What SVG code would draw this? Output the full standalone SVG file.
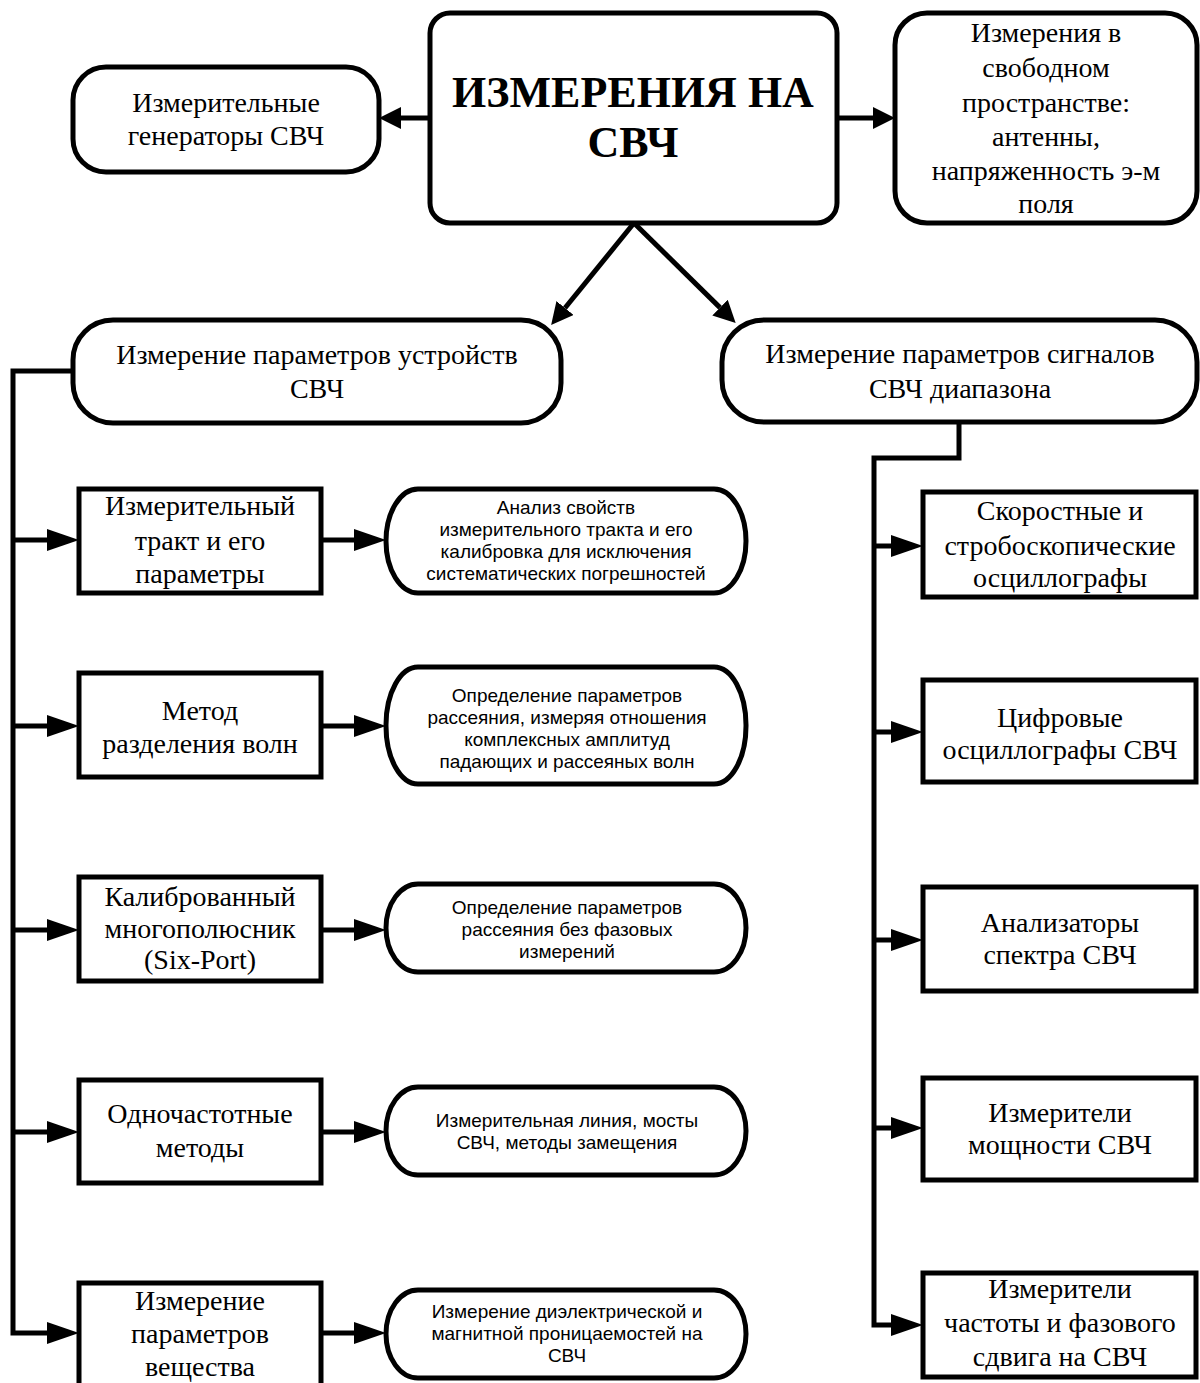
<svg xmlns="http://www.w3.org/2000/svg" width="1200" height="1383" viewBox="0 0 1200 1383">
<style>
.b{fill:#fff;stroke:#000;stroke-width:5}
.c{fill:none;stroke:#000;stroke-width:5;stroke-linejoin:miter}
.t{font-family:"Liberation Serif","Times New Roman",serif;font-size:28px;text-anchor:middle;fill:#000}
.h{font-family:"Liberation Serif","Times New Roman",serif;font-size:44px;font-weight:bold;text-anchor:middle;fill:#000}
.s{font-family:"Liberation Sans",Arial,sans-serif;font-size:19px;text-anchor:middle;fill:#000}
</style>
<defs>
<marker id="ah" markerUnits="userSpaceOnUse" markerWidth="32" markerHeight="22" refX="0" refY="11" orient="auto" viewBox="0 0 32 22"><path d="M0,0 L32,11 L0,22 z" fill="#000"/></marker>
<marker id="ahs" markerUnits="userSpaceOnUse" markerWidth="22" markerHeight="22" refX="0" refY="11" orient="auto" viewBox="0 0 22 22"><path d="M0,0 L22,11 L0,22 z" fill="#000"/></marker>
</defs>

<g id="connectors">
<line class="c" x1="430" y1="118" x2="401" y2="118" marker-end="url(#ahs)"/>
<line class="c" x1="837" y1="118" x2="873" y2="118" marker-end="url(#ahs)"/>
<line class="c" x1="634" y1="223" x2="565" y2="308" marker-end="url(#ahs)"/>
<line class="c" x1="634" y1="223" x2="720" y2="307.6" marker-end="url(#ahs)"/>
<path class="c" d="M73,371 H13 V1333 H47" marker-end="url(#ah)"/>
<line class="c" x1="13" y1="540" x2="47" y2="540" marker-end="url(#ah)"/>
<line class="c" x1="13" y1="726" x2="47" y2="726" marker-end="url(#ah)"/>
<line class="c" x1="13" y1="930" x2="47" y2="930" marker-end="url(#ah)"/>
<line class="c" x1="13" y1="1132" x2="47" y2="1132" marker-end="url(#ah)"/>
<line class="c" x1="321" y1="540" x2="354" y2="540" marker-end="url(#ah)"/>
<line class="c" x1="321" y1="726" x2="354" y2="726" marker-end="url(#ah)"/>
<line class="c" x1="321" y1="930" x2="354" y2="930" marker-end="url(#ah)"/>
<line class="c" x1="321" y1="1132" x2="354" y2="1132" marker-end="url(#ah)"/>
<line class="c" x1="321" y1="1333" x2="354" y2="1333" marker-end="url(#ah)"/>
<path class="c" d="M959,422 V458 H874 V1325 H891" marker-end="url(#ah)"/>
<line class="c" x1="874" y1="546" x2="891" y2="546" marker-end="url(#ah)"/>
<line class="c" x1="874" y1="732" x2="891" y2="732" marker-end="url(#ah)"/>
<line class="c" x1="874" y1="940" x2="891" y2="940" marker-end="url(#ah)"/>
<line class="c" x1="874" y1="1128" x2="891" y2="1128" marker-end="url(#ah)"/>
</g>

<g id="main">
<rect class="b" x="430" y="13" width="407" height="210" rx="20"/>
<text class="h" x="633" y="107">ИЗМЕРЕНИЯ НА</text>
<text class="h" x="633" y="157">СВЧ</text>
</g>

<g id="generators">
<rect class="b" x="73" y="67" width="306" height="105" rx="33"/>
<text class="t" x="226" y="112">Измерительные</text>
<text class="t" x="226" y="145">генераторы СВЧ</text>
</g>

<g id="freespace">
<rect class="b" x="895" y="13" width="302" height="210" rx="32"/>
<text class="t" x="1046" y="42">Измерения в</text>
<text class="t" x="1046" y="77">свободном</text>
<text class="t" x="1046" y="112">пространстве:</text>
<text class="t" x="1046" y="146">антенны,</text>
<text class="t" x="1046" y="180">напряженность э-м</text>
<text class="t" x="1046" y="213">поля</text>
</g>

<g id="devices">
<rect class="b" x="73" y="320" width="488" height="103" rx="40"/>
<text class="t" x="317" y="364">Измерение параметров устройств</text>
<text class="t" x="317" y="398">СВЧ</text>
</g>

<g id="signals">
<rect class="b" x="722" y="320" width="475" height="102" rx="42"/>
<text class="t" x="960" y="363">Измерение параметров сигналов</text>
<text class="t" x="960" y="398">СВЧ диапазона</text>
</g>

<g id="l1">
<rect class="b" x="79" y="489" width="242" height="104"/>
<text class="t" x="200" y="515">Измерительный</text>
<text class="t" x="200" y="550">тракт и его</text>
<text class="t" x="200" y="583">параметры</text>
</g>
<g id="r1">
<rect class="b" x="386" y="489" width="360" height="104" rx="32" ry="52"/>
<text class="s" x="566" y="514">Анализ свойств</text>
<text class="s" x="566" y="536">измерительного тракта и его</text>
<text class="s" x="566" y="558">калибровка для исключения</text>
<text class="s" x="566" y="580">систематических погрешностей</text>
</g>

<g id="l2">
<rect class="b" x="79" y="673" width="242" height="104"/>
<text class="t" x="200" y="720">Метод</text>
<text class="t" x="200" y="753">разделения волн</text>
</g>
<g id="r2">
<rect class="b" x="386" y="667" width="360" height="117" rx="32" ry="58"/>
<text class="s" x="567" y="702">Определение параметров</text>
<text class="s" x="567" y="724">рассеяния, измеряя отношения</text>
<text class="s" x="567" y="746">комплексных амплитуд</text>
<text class="s" x="567" y="768">падающих и рассеяных волн</text>
</g>

<g id="l3">
<rect class="b" x="79" y="877" width="242" height="104"/>
<text class="t" x="200" y="906">Калиброванный</text>
<text class="t" x="200" y="938">многополюсник</text>
<text class="t" x="200" y="969">(Six-Port)</text>
</g>
<g id="r3">
<rect class="b" x="386" y="884" width="360" height="88" rx="32" ry="44"/>
<text class="s" x="567" y="914">Определение параметров</text>
<text class="s" x="567" y="936">рассеяния без фазовых</text>
<text class="s" x="567" y="958">измерений</text>
</g>

<g id="l4">
<rect class="b" x="79" y="1080" width="242" height="103"/>
<text class="t" x="200" y="1123">Одночастотные</text>
<text class="t" x="200" y="1157">методы</text>
</g>
<g id="r4">
<rect class="b" x="386" y="1087" width="360" height="88" rx="32" ry="44"/>
<text class="s" x="567" y="1127">Измерительная линия, мосты</text>
<text class="s" x="567" y="1149">СВЧ, методы замещения</text>
</g>

<g id="l5">
<rect class="b" x="79" y="1283" width="242" height="104"/>
<text class="t" x="200" y="1310">Измерение</text>
<text class="t" x="200" y="1343">параметров</text>
<text class="t" x="200" y="1376">вещества</text>
</g>
<g id="r5">
<rect class="b" x="386" y="1290" width="360" height="88" rx="32" ry="44"/>
<text class="s" x="567" y="1318">Измерение диэлектрической и</text>
<text class="s" x="567" y="1340">магнитной проницаемостей на</text>
<text class="s" x="567" y="1362">СВЧ</text>
</g>

<g id="s1">
<rect class="b" x="923" y="492" width="273" height="105"/>
<text class="t" x="1060" y="520">Скоростные и</text>
<text class="t" x="1060" y="555">стробоскопические</text>
<text class="t" x="1060" y="587">осциллографы</text>
</g>
<g id="s2">
<rect class="b" x="923" y="680" width="273" height="102"/>
<text class="t" x="1060" y="727">Цифровые</text>
<text class="t" x="1060" y="759">осциллографы СВЧ</text>
</g>
<g id="s3">
<rect class="b" x="923" y="887" width="273" height="104"/>
<text class="t" x="1060" y="932">Анализаторы</text>
<text class="t" x="1060" y="964">спектра СВЧ</text>
</g>
<g id="s4">
<rect class="b" x="923" y="1078" width="273" height="102"/>
<text class="t" x="1060" y="1122">Измерители</text>
<text class="t" x="1060" y="1154">мощности СВЧ</text>
</g>
<g id="s5">
<rect class="b" x="923" y="1273" width="273" height="104"/>
<text class="t" x="1060" y="1298">Измерители</text>
<text class="t" x="1060" y="1332">частоты и фазового</text>
<text class="t" x="1060" y="1366">сдвига на СВЧ</text>
</g>
</svg>
